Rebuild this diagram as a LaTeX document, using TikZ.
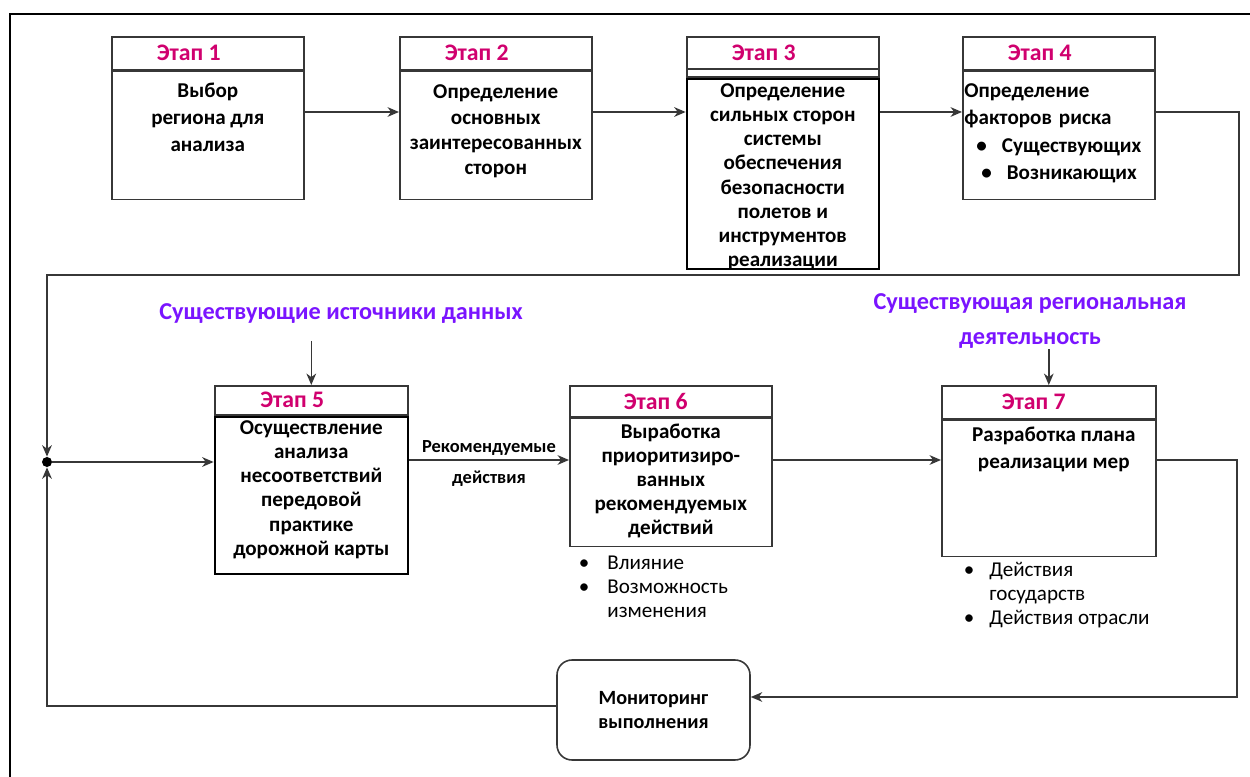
\documentclass[tikz,border=0pt]{standalone}
\usepackage{fontspec}
\setmainfont{Carlito}
\usepackage{xcolor}
\usepackage{tikz}
\usetikzlibrary{positioning,calc,arrows.meta}

\definecolor{stagered}{RGB}{208,0,110}
\definecolor{srcviolet}{RGB}{122,20,255}
\definecolor{linegray}{RGB}{55,55,55}

\tikzset{
  stagehead/.style={draw=linegray, line width=0.9pt, minimum width=3.84cm, minimum height=0.66cm, anchor=north west, inner sep=0pt},
  stagebody/.style={draw=linegray, line width=0.9pt, minimum width=3.84cm, inner sep=0pt},
  heavybody/.style={stagebody, draw=black, line width=1.3pt},
  headtext/.style={text=stagered, font=\bfseries\fontsize{13.5}{15}\selectfont, xshift=-0.38cm},
  stagetext/.style={anchor=north, align=center, inner sep=0pt, font=\bfseries\fontsize{12}{15.5}\selectfont},
  tighttext/.style={stagetext, font=\bfseries\fontsize{12}{13.7}\selectfont},
  srctext/.style={text=srcviolet, align=center, inner sep=0pt, font=\bfseries\fontsize{13.8}{19.5}\selectfont},
  notetext/.style={anchor=north west, inner sep=0pt, font=\fontsize{12}{13.7}\selectfont},
  flow/.style={draw=linegray, line width=0.8pt},
  arr/.style={flow, -{Stealth[length=6.5pt,width=5.5pt,inset=2pt]}},
}

\begin{document}
\begin{tikzpicture}
    \useasboundingbox (0,0) rectangle (25,-15.54);

    % Frame
    \draw[line width=1.1pt] (25,-0.28) -- (0.2,-0.28) -- (0.2,-15.54);

    % Stages 1-4
    \node[stagehead, label={[headtext]center:Этап 1}] (s1h) at (2.22,-0.72) {};
    \node[stagebody, minimum height=2.56cm, below=0pt of s1h] (s1) {};
    \node[stagetext] (t1) at ([yshift=-0.24cm]s1.north) {Выбор\\региона для\\анализа};

    \node[stagehead, label={[headtext]center:Этап 2}] (s2h) at (7.98,-0.72) {};
    \node[stagebody, minimum height=2.56cm, below=0pt of s2h] (s2) {};
    \node[stagetext, font=\bfseries\fontsize{12}{14.4}\selectfont] (t2) at ([yshift=-0.28cm]s2.north) {Определение\\основных\\заинтересованных\\сторон};

    \node[stagehead, minimum height=0.8cm, label={[headtext, yshift=0.07cm]center:Этап 3}] (s3h) at (13.72,-0.72) {};
    \draw[flow] ([yshift=-0.66cm]s3h.north west) -- ([yshift=-0.66cm]s3h.north east);
    \node[heavybody, minimum height=3.8cm, below=0pt of s3h] (s3) {};
    \node[tighttext] (t3) at ([yshift=-0.12cm]s3.north) {Определение\\сильных сторон\\системы\\обеспечения\\безопасности\\полетов и\\инструментов\\реализации};

    \node[stagehead, label={[headtext]center:Этап 4}] (s4h) at (19.24,-0.72) {};
    \node[stagebody, minimum height=2.56cm, below=0pt of s4h] (s4) {};
    \node[stagetext, anchor=north west, align=left, text width=3.8cm] (t4) at ([xshift=0.04cm, yshift=-0.26cm]s4.north west)
        {Определение\\факторов риска\\\hspace*{0.24cm}\textbullet\hspace{0.3cm}Существующих\\\hspace*{0.34cm}\textbullet\hspace{0.3cm}Возникающих};

    % Stages 5-7
    \node[stagehead, minimum width=3.86cm, minimum height=0.58cm, label={[headtext]center:Этап 5}] (s5h) at (4.28,-7.70) {};
    \node[heavybody, minimum width=3.86cm, minimum height=3.14cm, below=0pt of s5h] (s5) {};
    \node[tighttext] (t5) at ([yshift=-0.1cm]s5.north) {Осуществление\\анализа\\несоответствий\\передовой\\практике\\дорожной карты};

    \node[stagehead, minimum width=4.04cm, minimum height=0.62cm, label={[headtext, xshift=0.08cm]center:Этап 6}] (s6h) at (11.38,-7.70) {};
    \node[stagebody, minimum width=4.04cm, minimum height=2.56cm, below=0pt of s6h] (s6) {};
    \node[tighttext] (t6) at ([yshift=-0.12cm]s6.north) {Выработка\\приоритизиро-\\ванных\\рекомендуемых\\действий};

    \node[stagehead, minimum width=4.28cm, minimum height=0.66cm, label={[headtext, xshift=0.08cm]center:Этап 7}] (s7h) at (18.82,-7.70) {};
    \node[stagebody, minimum width=4.28cm, minimum height=2.72cm, below=0pt of s7h] (s7) {};
    \node[stagetext, font=\bfseries\fontsize{12}{15.3}\selectfont] (t7) at ([xshift=0.1cm, yshift=-0.14cm]s7.north) {Разработка плана\\реализации мер};

    % Notes under stages 6 and 7
    \node[notetext] (n6) at (11.57,-11.04) {\begin{tabular}{@{}l@{\hspace{0.36cm}}l@{}}
        \textbullet & Влияние\\ \textbullet & Возможность\\ & изменения\end{tabular}};
    \node[notetext] (n7) at (19.27,-11.18) {\begin{tabular}{@{}l@{\hspace{0.3cm}}l@{}}
        \textbullet & Действия\\ & государств\\ \textbullet & Действия отрасли\end{tabular}};

    % Inputs
    \node[srctext] (src5) at (6.82,-6.28) {Существующие источники данных};
    \node[srctext] (src7) at (20.6,-6.42) {Существующая региональная\\деятельность};
    \draw[arr] (s5h.north |- 0,-6.82) -- (s5h.north);
    \draw[arr] (s7h.north |- 0,-6.98) -- (s7h.north);

    % Monitoring
    \node[draw=linegray, line width=0.9pt, rounded corners=0.3cm, minimum width=3.86cm, minimum height=2cm, align=center,
          font=\bfseries\fontsize{11.5}{13.2}\selectfont] (mon) at (13.07,-14.2) {Мониторинг\\выполнения};

    % Connectors
    \coordinate (r1) at (0,-2.24);
    \coordinate (r2) at (0,-9.2);
    \coordinate (ne) at (24.78,-5.5);
    \coordinate (nw) at (0.94,-5.5);
    \coordinate (se) at (24.74,-13.94);
    \coordinate (sw) at (0.94,-14.12);
    \node[circle, fill=black, inner sep=0pt, minimum size=0.2cm] (j) at (0.94,-9.24) {};

    \draw[arr] (s1.east |- r1) -- (s2.west |- r1);
    \draw[arr] (s2.east |- r1) -- (s3.west |- r1);
    \draw[arr] (s3.east |- r1) -- (s4.west |- r1);
    \draw[arr] (s4.east |- r1) -| (ne) -- (nw) -- (j);

    \draw[arr] (j) -- (s5.west |- j);
    \draw[arr] (s5.east |- r2) -- (s6.west |- r2)
        node[midway, above=-0.05cm, font=\bfseries\fontsize{10.5}{12}\selectfont] (rec1) {Рекомендуемые}
        node[midway, below=0.08cm, font=\bfseries\fontsize{10.5}{12}\selectfont] (rec2) {действия};
    \draw[arr] (s6.east |- r2) -- (s7.west |- r2);

    \draw[arr] (s7.east |- r2) -| (se) -- (mon.east |- se);
    \draw[arr] (mon.west |- sw) -- (sw) -- (j);
\end{tikzpicture}
\end{document}
